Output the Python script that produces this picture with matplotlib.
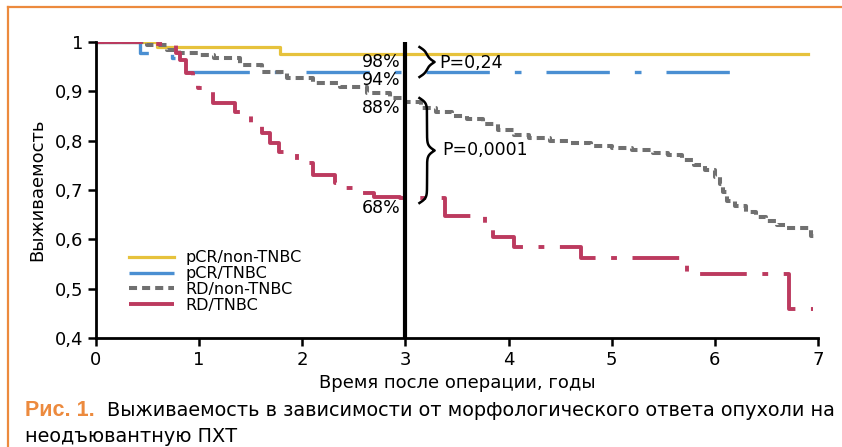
import numpy as np
import matplotlib
matplotlib.use("Agg")
import matplotlib.pyplot as plt
from matplotlib.lines import Line2D

# survival data (time in years, survival fraction), step functions
yel_t = [0, 0.59, 1.78, 6.9]
yel_s = [1.0, 0.99, 0.975, 0.975]

blu_t = [0, 0.43, 0.74, 0.78, 6.22]
blu_s = [1.0, 0.978, 0.968, 0.939, 0.939]

gry_t = [0, 0.49, 0.69, 0.8, 1.0, 1.14, 1.4, 1.61, 1.85, 2.1, 2.37, 2.63, 2.85, 3.0,
         3.15, 3.3, 3.45, 3.6, 3.75, 3.9, 4.05, 4.2, 4.4, 4.6, 4.8, 5.0, 5.2, 5.4,
         5.55, 5.68, 5.8, 5.9, 6.0, 6.05, 6.08, 6.12, 6.2, 6.3, 6.4, 6.5, 6.6, 6.7,
         6.93, 6.97]
gry_s = [1.0, 0.994, 0.984, 0.978, 0.973, 0.968, 0.953, 0.939, 0.927, 0.917, 0.909,
         0.896, 0.886, 0.878, 0.866, 0.858, 0.851, 0.843, 0.834, 0.822, 0.812, 0.806,
         0.8, 0.795, 0.789, 0.785, 0.781, 0.776, 0.77, 0.76, 0.75, 0.74, 0.726, 0.712,
         0.695, 0.678, 0.668, 0.655, 0.645, 0.638, 0.63, 0.624, 0.606, 0.606]

red_t = [0, 0.5, 0.78, 0.81, 0.87, 0.94, 0.99, 1.13, 1.35, 1.5, 1.61, 1.69, 1.77,
         1.95, 2.1, 2.32, 2.4, 2.51, 2.7, 2.95, 3.38, 3.77, 3.85, 4.05, 4.7, 5.73,
         6.72, 6.95]
red_s = [1.0, 0.995, 0.978, 0.963, 0.937, 0.919, 0.907, 0.876, 0.858, 0.836, 0.815,
         0.795, 0.777, 0.755, 0.73, 0.714, 0.704, 0.694, 0.686, 0.683, 0.648, 0.625,
         0.605, 0.585, 0.563, 0.53, 0.458, 0.458]

labels = ["pCR/non-TNBC", "pCR/TNBC", "RD/non-TNBC", "RD/TNBC"]
pct_pos = [0.959, 0.923, 0.866, 0.663]
pct_text = ["98%", "94%", "88%", "68%"]
p_text = ["P=0,24", "P=0,0001"]

YEL = "#E6C23C"
BLU = "#4A8FD2"
GRY = "#707070"
RED = "#BC3A5F"
ORG = "#EC8A3E"

fig = plt.figure(figsize=(8.42, 4.47), dpi=100)
ax = fig.add_axes([0.114, 0.2438, 0.8575, 0.6622])

ax.plot(yel_t, yel_s, drawstyle="steps-post", color=YEL, lw=2.3, label=labels[0])
ax.plot(blu_t, blu_s, drawstyle="steps-post", color=BLU, lw=2.4,
        ls=(0, (19, 7.5, 2, 7.5)), label=labels[1])
ax.plot(gry_t, gry_s, drawstyle="steps-post", color=GRY, lw=2.9,
        ls=(0, (2, 1.25)), label=labels[2])
ax.plot(red_t, red_s, drawstyle="steps-post", color=RED, lw=2.8,
        ls=(0, (12, 4, 1.5, 4)), label=labels[3])

ax.axvline(3, color="black", lw=3, zorder=5)

ax.set_xlim(0, 7)
ax.set_ylim(0.4, 1.0)
ax.set_xticks(range(8))
ax.set_yticks([0.4, 0.5, 0.6, 0.7, 0.8, 0.9, 1.0])
ax.set_yticklabels(["0,4", "0,5", "0,6", "0,7", "0,8", "0,9", "1"])
for s in ["top", "right"]:
    ax.spines[s].set_visible(False)
for s in ["left", "bottom"]:
    ax.spines[s].set_linewidth(2)
ax.tick_params(direction="out", length=6, width=1.8, labelsize=13, pad=3)
xl = ax.set_xlabel("Время после операции, годы", fontsize=13, labelpad=4)
ax.set_ylabel("Выживаемость", fontsize=13, labelpad=6)

for v, t in zip(pct_pos, pct_text):
    ax.text(2.95, v, t, ha="right", va="center", fontsize=12.5)


def brace(ax, x, y0, y1, w, beta=120.0):
    # vertical curly brace in axes fraction coords, tip pointing right
    n = 201
    y = np.linspace(y0, y1, n)
    half = y[: n // 2 + 1]
    xh = 1 / (1 + np.exp(-beta * (half - half[0]))) + 1 / (1 + np.exp(-beta * (half - half[-1])))
    xs = np.concatenate((xh, xh[-2::-1]))
    ax.plot(x + (xs - 0.5) * w, y, transform=ax.transAxes, color="black", lw=1.8,
            clip_on=False)


brace(ax, 0.448, 1 - (77 - 42) / 296, 1 - (47 - 42) / 296, 0.021)
brace(ax, 0.448, 1 - (203 - 42) / 296, 1 - (98 - 42) / 296, 0.021)
ax.text(3.33, 0.957, p_text[0], fontsize=12.5, va="center")
ax.text(3.36, 0.781, p_text[1], fontsize=12.5, va="center")

ax.legend(loc="upper left", bbox_to_anchor=(0.035, 0.323), frameon=False,
          fontsize=11.5, handlelength=2.8, labelspacing=0.05, handletextpad=0.7,
          borderpad=0)

# orange frame
fig.add_artist(Line2D([8 / 842, 1], [1 - 7 / 447] * 2, color=ORG, lw=1.6))
fig.add_artist(Line2D([8 / 842] * 2, [0, 1 - 7 / 447], color=ORG, lw=1.6))

fig.text(25 / 842, 1 - 410 / 447, "Рис. 1.", color=ORG, fontsize=15.5,
         fontweight="bold", family="Liberation Sans", va="center")
cap1 = fig.text(107 / 842, 1 - 410 / 447,
                "Выживаемость в зависимости от морфологического ответа опухоли на",
                fontsize=16, va="center")
cap2 = fig.text(25 / 842, 1 - 437 / 447, "неодъювантную ПХТ", fontsize=16, va="center")

# fit caption and axis label widths to the reference
r = fig.canvas.get_renderer()
w = cap1.get_window_extent(r).width
fs = 16 * 728 / w
cap1.set_fontsize(fs)
cap2.set_fontsize(fs)
w = xl.get_window_extent(r).width
xl.set_fontsize(13 * 275 / w)

fig.savefig("out.png", dpi=100)
